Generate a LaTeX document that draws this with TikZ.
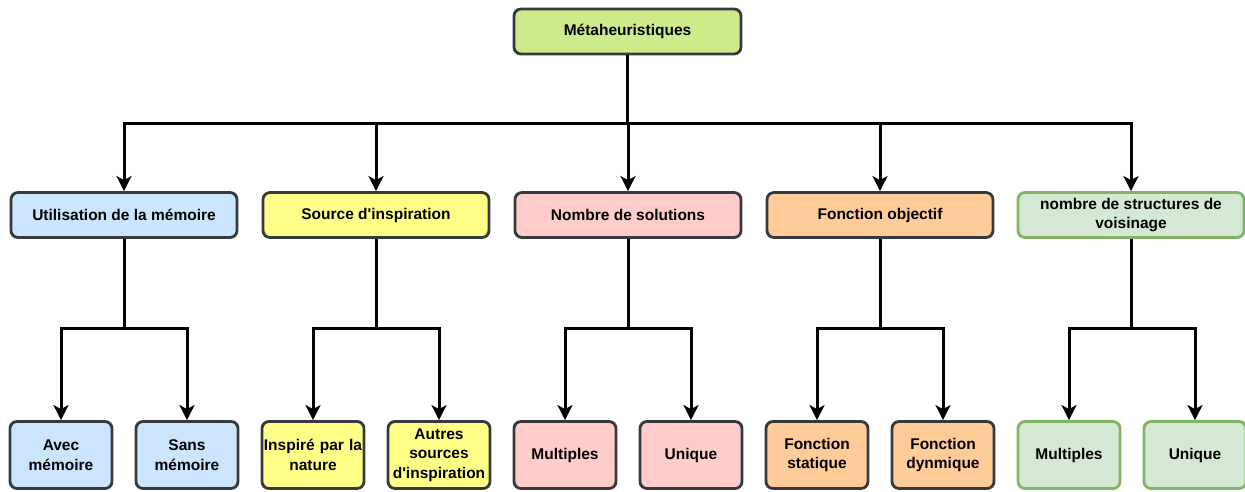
\documentclass[tikz,border=0pt]{standalone}
\usepackage{fontspec}
\setmainfont{Liberation Sans}[Ligatures=NoCommon]
\usetikzlibrary{arrows.meta}
\definecolor{lime}{HTML}{CDEB8B}
\definecolor{bluef}{HTML}{CCE5FF}
\definecolor{yellowf}{HTML}{FFFF88}
\definecolor{pinkf}{HTML}{FFCCCC}
\definecolor{orangef}{HTML}{FFCC99}
\definecolor{greenf}{HTML}{D5E8D4}
\definecolor{greend}{HTML}{82B366}
\definecolor{darkd}{HTML}{36393D}
\tikzset{
  box/.style={draw=darkd, line width=2.8pt, rounded corners=7pt, align=center,
    font=\bfseries\fontsize{15.5}{19.5}\selectfont, inner sep=1pt},
  catbox/.style={box, minimum width=226pt, minimum height=45pt},
  leaf/.style={box, minimum width=101pt, minimum height=67pt, text width=100pt},
  gbox/.style={draw=greend},
  arr/.style={line width=3pt, -{Stealth[length=15pt,width=15pt,inset=4pt]}}
}
\begin{document}
\begin{tikzpicture}[x=1pt,y=-1pt]
\useasboundingbox (0,0) rectangle (1245,491);
% root
\node[box, fill=lime, minimum width=227pt, minimum height=45pt] (root) at (627.5,31.5) {Métaheuristiques};
% categories
\node[catbox, fill=bluef]   (c1) at (124,215) {Utilisation de la mémoire};
\node[catbox, fill=yellowf] (c2) at (376,215) {Source d\textquotesingle inspiration};
\node[catbox, fill=pinkf]   (c3) at (628,215) {Nombre de solutions};
\node[catbox, fill=orangef] (c4) at (880,215) {Fonction objectif};
\node[catbox, fill=greenf, gbox] (c5) at (1131,215) {nombre de structures de\\voisinage};
% leaves
\node[leaf, fill=bluef]   (l11) at (61,455)  {Avec\\mémoire};
\node[leaf, fill=bluef]   (l12) at (187,455) {Sans\\mémoire};
\node[leaf, fill=yellowf] (l21) at (313,455) {Inspiré par la\\nature};
\node[leaf, fill=yellowf] (l22) at (439,455) {Autres\\sources\\d\textquotesingle inspiration};
\node[leaf, fill=pinkf]   (l31) at (565,455) {Multiples};
\node[leaf, fill=pinkf]   (l32) at (691,455) {Unique};
\node[leaf, fill=orangef] (l41) at (817,455) {Fonction\\statique};
\node[leaf, fill=orangef] (l42) at (943,455) {Fonction\\dynmique};
\node[leaf, fill=greenf, gbox] (l51) at (1069,455) {Multiples};
\node[leaf, fill=greenf, gbox] (l52) at (1195,455) {Unique};
% root to categories
\foreach \c in {c1,c2,c3,c4,c5}
  \draw[arr] (root.south) -- ++(0,68) -| (\c.north);
% categories to leaves
\foreach \p/\a/\b in {c1/l11/l12, c2/l21/l22, c3/l31/l32, c4/l41/l42, c5/l51/l52}{
  \draw[arr] (\p.south) -- ++(0,90) -| (\a.north);
  \draw[arr] (\p.south) -- ++(0,90) -| (\b.north);
}
\end{tikzpicture}
\end{document}
